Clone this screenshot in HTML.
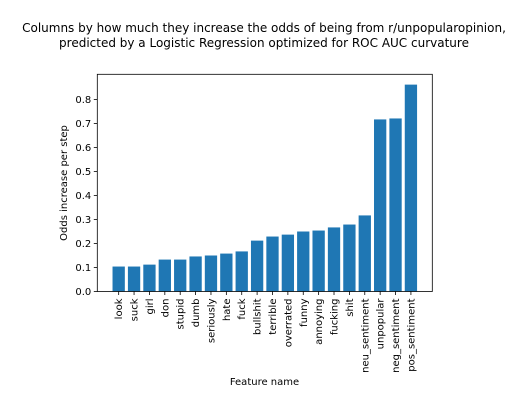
<!DOCTYPE html>
<html><head><meta charset="utf-8"><style>
body{margin:0;background:#fff;}
svg{display:block;font-family:"DejaVu Sans","Liberation Sans",sans-serif;}
</style></head><body>
<svg id="chart" width="528" height="408">
<text x="264" y="32" text-anchor="middle" font-size="12">Columns by how much they increase the odds of being from r/unpopularopinion,</text>
<text x="264" y="47" text-anchor="middle" font-size="12">predicted by a Logistic Regression optimized for ROC AUC curvature</text>
<g id="bars"></g>
<g id="axes"></g>
<text x="264.5" y="385" text-anchor="middle" font-size="10">Feature name</text>
<text transform="translate(67,183) rotate(-90)" text-anchor="middle" font-size="10">Odds increase per step</text>
</svg>
<script>
const categories=["look","suck","girl","don","stupid","dumb","seriously","hate","fuck","bullshit","terrible","overrated","funny","annoying","fucking","shit","neu_sentiment","unpopular","neg_sentiment","pos_sentiment"];
const values=[0.104,0.104,0.112,0.133,0.133,0.146,0.150,0.158,0.167,0.212,0.229,0.237,0.250,0.254,0.267,0.279,0.317,0.717,0.721,0.862];
const yTicks=[0,0.1,0.2,0.3,0.4,0.5,0.6,0.7,0.8];
const yTickLabels=["0.0","0.1","0.2","0.3","0.4","0.5","0.6","0.7","0.8"];
const L=97.3,R=432.3,T=74.3,B=291.5;
const n=categories.length;
const x0=-1.39,x1=n-1+1.39;
const xs=i=>L+(i-x0)/(x1-x0)*(R-L);
const ys=v=>B-v*240;
const NS="http://www.w3.org/2000/svg";
const bars=document.getElementById('bars'),axes=document.getElementById('axes');
const bw=0.8*(R-L)/(x1-x0);
categories.forEach((c,i)=>{
  const r=document.createElementNS(NS,'rect');
  r.setAttribute('x',xs(i)-bw/2);r.setAttribute('y',ys(values[i]));
  r.setAttribute('width',bw);r.setAttribute('height',B-ys(values[i]));
  r.setAttribute('fill','#1f77b4');
  
  
  bars.appendChild(r);
  const t=document.createElementNS(NS,'line');
  t.setAttribute('x1',xs(i));t.setAttribute('x2',xs(i));t.setAttribute('y1',B);t.setAttribute('y2',B+3.5);t.setAttribute('stroke','#000');t.setAttribute('stroke-width','0.8');
  axes.appendChild(t);
  const lb=document.createElementNS(NS,'text');
  lb.setAttribute('transform',`translate(${xs(i)+3.5},${B+7}) rotate(-90)`);
  lb.setAttribute('text-anchor','end');lb.setAttribute('font-size','10');
  lb.textContent=c;
  
  
  axes.appendChild(lb);
});
yTicks.forEach((v,k)=>{
  const t=document.createElementNS(NS,'line');
  t.setAttribute('x1',L-3.5);t.setAttribute('x2',L);t.setAttribute('y1',ys(v));t.setAttribute('y2',ys(v));t.setAttribute('stroke','#000');t.setAttribute('stroke-width','0.8');
  axes.appendChild(t);
  const lb=document.createElementNS(NS,'text');
  lb.setAttribute('x',L-6);lb.setAttribute('y',ys(v)+3.5);lb.setAttribute('text-anchor','end');lb.setAttribute('font-size','10');
  lb.textContent=yTickLabels[k];
  
  
  axes.appendChild(lb);
});
const frame=document.createElementNS(NS,'rect');
frame.setAttribute('x',L);frame.setAttribute('y',T);frame.setAttribute('width',R-L);frame.setAttribute('height',B-T);
frame.setAttribute('fill','none');frame.setAttribute('stroke','#000');frame.setAttribute('stroke-width','0.8');


axes.appendChild(frame);
</script>
</body></html>
